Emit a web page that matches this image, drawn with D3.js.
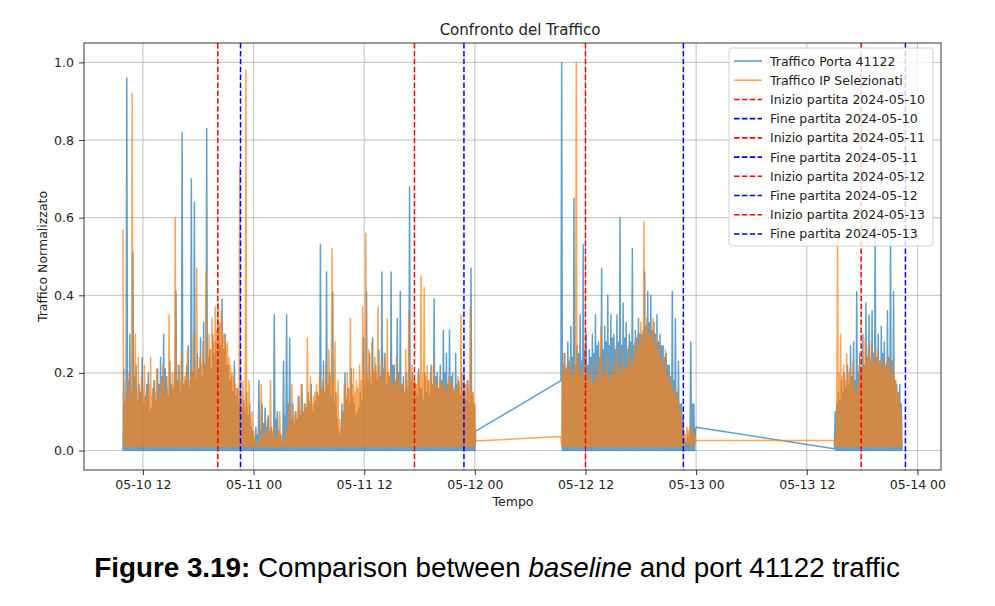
<!DOCTYPE html>
<html><head><meta charset="utf-8">
<script src="https://cdn.jsdelivr.net/npm/d3@7"></script>
<style>body{margin:0;background:#fff}svg{display:block}</style>
</head><body><svg id="c" width="995" height="606"></svg>
<script>
// ---------------- DATA ----------------
const sampleMinutes = 5;
const segmentStarts = ["2024-05-10T09:50", "2024-05-12T09:20", "2024-05-13T15:00"];

// Traffico Porta 41122 (normalized), one value per 5 minutes
const portaSegA = [
0,0.21,0,0.12, 0,0.96,0,0.18, 0,0.30,0,0.15, 0,0.51,0,0.19, 0,0.22,0,0.13,
0,0.17,0,0.15, 0,0.24,0,0.12, 0,0.14,0,0.17, 0,0.20,0,0.10, 0,0.11,0,0.16,
0,0.18,0,0.13, 0,0.21,0,0.17, 0,0.24,0,0.19, 0,0.30,0,0.21, 0,0.19,0,0.14,
0,0.23,0,0.17, 0,0.16,0,0.20, 0,0.41,0,0.18, 0,0.22,0,0.15, 0,0.82,0,0.17,
0,0.18,0,0.22, 0,0.27,0,0.16, 0,0.70,0,0.20, 0,0.64,0,0.18, 0,0.25,0,0.21,
0,0.29,0,0.19, 0,0.33,0,0.22, 0,0.83,0,0.24, 0,0.26,0,0.21, 0,0.30,0,0.25,
0,0.28,0,0.23, 0,0.32,0,0.27, 0,0.39,0,0.26, 0,0.30,0,0.22, 0,0.22,0,0.18,
0,0.19,0,0.15, 0,0.23,0,0.14, 0,0.16,0,0.12, 0,0.20,0,0.11, 0,0.13,0,0.10,
0,0.15,0,0.09, 0,0.12,0,0.06, 0,0.05,0,0.03, 0,0.06,0,0.04, 0,0.18,0,0.05,
0,0.12,0,0.07, 0,0.11,0,0.06, 0,0.09,0,0.05, 0,0.06,0,0.04, 0,0.35,0,0.08,
0,0.10,0,0.05, 0,0.04,0,0.02, 0,0.23,0,0.09, 0,0.35,0,0.12, 0,0.29,0,0.08,
0,0.12,0,0.07, 0,0.10,0,0.08, 0,0.14,0,0.09, 0,0.17,0,0.10, 0,0.12,0,0.11,
0,0.15,0,0.12, 0,0.17,0,0.10, 0,0.12,0,0.13, 0,0.15,0,0.14, 0,0.53,0,0.16,
0,0.23,0,0.15, 0,0.46,0,0.17, 0,0.20,0,0.14, 0,0.41,0,0.12, 0,0.15,0,0.08,
0,0.05,0,0.04, 0,0.12,0,0.10, 0,0.20,0,0.13, 0,0.16,0,0.12, 0,0.21,0,0.14,
0,0.12,0,0.09, 0,0.10,0,0.11, 0,0.15,0,0.13, 0,0.29,0,0.16, 0,0.41,0,0.18,
0,0.25,0,0.17, 0,0.29,0,0.20, 0,0.22,0,0.18, 0,0.26,0,0.19, 0,0.46,0,0.21,
0,0.25,0,0.17, 0,0.20,0,0.19, 0,0.46,0,0.22, 0,0.22,0,0.18, 0,0.34,0,0.20,
0,0.41,0,0.17, 0,0.19,0,0.15, 0,0.20,0,0.16, 0,0.68,0,0.18, 0,0.20,0,0.15,
0,0.17,0,0.14, 0,0.21,0,0.16, 0,0.16,0,0.13, 0,0.20,0,0.15, 0,0.18,0,0.14,
0,0.22,0,0.17, 0,0.39,0,0.19, 0,0.20,0,0.16, 0,0.22,0,0.18, 0,0.31,0,0.20,
0,0.25,0,0.17, 0,0.31,0,0.19, 0,0.20,0,0.15, 0,0.25,0,0.17, 0,0.18,0,0.14,
0,0.20,0,0.15, 0,0.15,0,0.13, 0,0.18,0,0.12, 0,0.47,0,0.14, 0,0.12,0,0.05];
const portaSegB = [0.18,
1.00,0,0.22,0, 0.25,0,0.21,0, 0.28,0,0.23,0, 0.32,0,0.24,0, 0.65,0,0.22,0,
0.27,0,0.25,0, 0.35,0,0.23,0, 0.53,0,0.26,0, 0.30,0,0.22,0, 0.26,0,0.24,0,
0.30,0,0.25,0, 0.35,0,0.27,0, 0.28,0,0.24,0, 0.47,0,0.26,0, 0.32,0,0.28,0,
0.40,0,0.27,0, 0.35,0,0.29,0, 0.30,0,0.26,0, 0.35,0,0.28,0, 0.60,0,0.27,0,
0.38,0,0.29,0, 0.33,0,0.26,0, 0.30,0,0.28,0, 0.52,0,0.27,0, 0.31,0,0.29,0,
0.34,0,0.30,0, 0.30,0,0.31,0, 0.46,0,0.32,0, 0.41,0,0.33,0, 0.40,0,0.31,0,
0.33,0,0.30,0, 0.35,0,0.28,0, 0.30,0,0.27,0, 0.27,0,0.24,0, 0.25,0,0.22,0,
0.22,0,0.19,0, 0.41,0,0.18,0, 0.34,0,0.15,0, 0.23,0,0.12,0, 0.12,0,0.08,0,
0.03,0,0.02,0, 0.04,0,0.03,0, 0.28,0,0.12,0, 0.12,0,0.05,0.06];
const portaSegC = [0.005,
0.10,0,0.12,0, 0.15,0,0.13,0, 0.18,0,0.15,0, 0.20,0,0.16,0, 0.22,0,0.17,0,
0.27,0,0.19,0, 0.28,0,0.18,0, 0.41,0,0.20,0, 0.25,0,0.21,0, 0.30,0,0.22,0,
0.38,0,0.24,0, 0.35,0,0.23,0, 0.36,0,0.25,0, 0.58,0,0.24,0, 0.30,0,0.23,0,
0.32,0,0.25,0, 0.28,0,0.22,0, 0.36,0,0.24,0, 0.57,0,0.23,0, 0.41,0,0.18,0,
0.17,0,0.15,0, 0.17,0,0.12,0];

// Traffico IP Selezionati (normalized), one value per 5 minutes
const ipSegA = [
0.57,0.01,0.12,0.01, 0.18,0.01,0.14,0.01, 0.20,0.01,0.13,0.01, 0.92,0.01,0.16,0.01, 0.30,0.01,0.15,0.01,
0.24,0.01,0.12,0.01, 0.19,0.01,0.16,0.01, 0.22,0.01,0.13,0.01, 0.15,0.01,0.17,0.01, 0.24,0.01,0.14,0.01,
0.18,0.01,0.15,0.01, 0.21,0.01,0.13,0.01, 0.16,0.01,0.18,0.01, 0.22,0.01,0.14,0.01, 0.19,0.01,0.16,0.01,
0.35,0.01,0.15,0.01, 0.20,0.01,0.17,0.01, 0.60,0.01,0.16,0.01, 0.22,0.01,0.18,0.01, 0.25,0.01,0.17,0.01,
0.19,0.01,0.20,0.01, 0.26,0.01,0.18,0.01, 0.21,0.01,0.19,0.01, 0.30,0.01,0.21,0.01, 0.47,0.01,0.20,0.01,
0.24,0.01,0.22,0.01, 0.28,0.01,0.21,0.01, 0.46,0.01,0.24,0.01, 0.30,0.01,0.26,0.01, 0.34,0.01,0.28,0.01,
0.37,0.01,0.31,0.01, 0.38,0.01,0.33,0.01, 0.36,0.01,0.30,0.01, 0.30,0.01,0.27,0.01, 0.28,0.01,0.24,0.01,
0.22,0.01,0.20,0.01, 0.19,0.01,0.17,0.01, 0.16,0.01,0.15,0.01, 0.73,0.01,0.14,0.01, 0.18,0.01,0.12,0.01,
0.98,0.01,0.11,0.01, 0.18,0.01,0.08,0.01, 0.10,0.01,0.05,0.01, 0.03,0.01,0.02,0.01, 0.02,0.01,0.03,0.01,
0.17,0.01,0.04,0.01, 0.05,0.01,0.03,0.01, 0.08,0.01,0.04,0.01, 0.18,0.01,0.05,0.01, 0.06,0.01,0.03,0.01,
0.04,0.01,0.05,0.01, 0.10,0.01,0.04,0.01, 0.03,0.01,0.02,0.01, 0.06,0.01,0.05,0.01, 0.12,0.01,0.07,0.01,
0.17,0.01,0.09,0.01, 0.10,0.01,0.08,0.01, 0.14,0.01,0.10,0.01, 0.17,0.01,0.09,0.01, 0.12,0.01,0.11,0.01,
0.29,0.01,0.13,0.01, 0.19,0.01,0.12,0.01, 0.14,0.01,0.15,0.01, 0.17,0.01,0.14,0.01, 0.20,0.01,0.16,0.01,
0.18,0.01,0.15,0.01, 0.22,0.01,0.17,0.01, 0.26,0.01,0.19,0.01, 0.52,0.01,0.18,0.01, 0.28,0.01,0.14,0.01,
0.18,0.01,0.08,0.01, 0.06,0.01,0.10,0.01, 0.17,0.01,0.14,0.01, 0.20,0.01,0.16,0.01, 0.34,0.01,0.17,0.01,
0.21,0.01,0.15,0.01, 0.18,0.01,0.16,0.01, 0.22,0.01,0.18,0.01, 0.37,0.01,0.19,0.01, 0.56,0.01,0.20,0.01,
0.26,0.01,0.19,0.01, 0.28,0.01,0.21,0.01, 0.24,0.01,0.20,0.01, 0.37,0.01,0.19,0.01, 0.22,0.01,0.18,0.01,
0.25,0.01,0.20,0.01, 0.34,0.01,0.19,0.01, 0.21,0.01,0.17,0.01, 0.18,0.01,0.16,0.01, 0.24,0.01,0.18,0.01,
0.20,0.01,0.17,0.01, 0.17,0.01,0.15,0.01, 0.26,0.01,0.18,0.01, 0.36,0.01,0.19,0.01, 0.22,0.01,0.18,0.01,
0.18,0.01,0.17,0.01, 0.20,0.01,0.19,0.01, 0.45,0.01,0.20,0.01, 0.42,0.01,0.19,0.01, 0.22,0.01,0.18,0.01,
0.20,0.01,0.17,0.01, 0.22,0.01,0.18,0.01, 0.17,0.01,0.16,0.01, 0.19,0.01,0.17,0.01, 0.18,0.01,0.16,0.01,
0.17,0.01,0.15,0.01, 0.19,0.01,0.17,0.01, 0.18,0.01,0.16,0.01, 0.16,0.01,0.15,0.01, 0.19,0.01,0.17,0.01,
0.35,0.01,0.16,0.01, 0.20,0.01,0.17,0.01, 0.18,0.01,0.16,0.01, 0.37,0.01,0.15,0.01, 0.15,0.01,0.12,0.025];
const ipSegB = [0.036,0.01,0.22,0.01,
0.25,0.01,0.20,0.01, 0.22,0.01,0.21,0.01, 0.24,0.01,0.19,0.01, 0.20,0.01,0.22,0.01, 1.00,0.01,0.20,0.01,
0.23,0.01,0.19,0.01, 0.21,0.01,0.20,0.01, 0.24,0.01,0.18,0.01, 0.20,0.01,0.19,0.01, 0.22,0.01,0.17,0.01,
0.19,0.01,0.18,0.01, 0.24,0.01,0.20,0.01, 0.32,0.01,0.19,0.01, 0.21,0.01,0.20,0.01, 0.25,0.01,0.18,0.01,
0.20,0.01,0.19,0.01, 0.23,0.01,0.20,0.01, 0.27,0.01,0.21,0.01, 0.22,0.01,0.20,0.01, 0.26,0.01,0.22,0.01,
0.21,0.01,0.21,0.01, 0.27,0.01,0.23,0.01, 0.24,0.01,0.22,0.01, 0.28,0.01,0.25,0.01, 0.30,0.01,0.27,0.01,
0.33,0.01,0.29,0.01, 0.59,0.01,0.31,0.01, 0.34,0.01,0.30,0.01, 0.32,0.01,0.29,0.01, 0.34,0.01,0.27,0.01,
0.30,0.01,0.25,0.01, 0.28,0.01,0.23,0.01, 0.24,0.01,0.21,0.01, 0.26,0.01,0.19,0.01, 0.20,0.01,0.17,0.01,
0.18,0.01,0.15,0.01, 0.16,0.01,0.13,0.01, 0.15,0.01,0.11,0.01, 0.10,0.01,0.07,0.01, 0.05,0.01,0.04,0.02,
0.06,0.02,0.05,0.01, 0.06,0.02,0.06,0.01, 0.05,0.02,0.04,0.02, 0.026];
const ipSegC = [0.026,0.01,0.04,0.01,
0.57,0.01,0.20,0.01, 0.30,0.01,0.19,0.01, 0.22,0.01,0.18,0.01, 0.25,0.01,0.20,0.01, 0.21,0.01,0.18,0.01,
0.23,0.01,0.16,0.01, 0.15,0.01,0.17,0.01, 0.22,0.01,0.20,0.01, 0.25,0.01,0.21,0.01, 0.29,0.01,0.23,0.01,
0.27,0.01,0.24,0.01, 0.28,0.01,0.23,0.01, 0.25,0.01,0.22,0.01, 0.26,0.01,0.23,0.01, 0.23,0.01,0.21,0.01,
0.24,0.01,0.22,0.01, 0.23,0.01,0.21,0.01, 0.24,0.01,0.20,0.01, 0.22,0.01,0.19,0.01, 0.18,0.01,0.15,0.01,
0.14,0.01,0.11,0.01, 0.02];

const matchDays  = ["2024-05-10", "2024-05-11", "2024-05-12", "2024-05-13"];
const matchStart = ["2024-05-10T20:07", "2024-05-11T17:27", "2024-05-12T12:00", "2024-05-13T17:54"];
const matchEnd   = ["2024-05-10T22:35", "2024-05-11T22:49", "2024-05-12T22:37", "2024-05-13T22:42"];

const xTickLabels = ["2024-05-10T12:00","2024-05-11T00:00","2024-05-11T12:00","2024-05-12T00:00",
                     "2024-05-12T12:00","2024-05-13T00:00","2024-05-13T12:00","2024-05-14T00:00"];
const yTickValues = [0.0, 0.2, 0.4, 0.6, 0.8, 1.0];

const seriesLabels = ["Traffico Porta 41122", "Traffico IP Selezionati"];
const chartTitle = "Confronto del Traffico";
const xLabel = "Tempo", yLabel = "Traffico Normalizzato";

// ---------------- CHART ----------------
const parse = d3.utcParse("%Y-%m-%dT%H:%M");
function build(startStr, vals) {
  const t0 = parse(startStr).getTime();
  return vals.map((v, i) => ({ t: new Date(t0 + i * sampleMinutes * 60000), v }));
}
const porta = [].concat(build(segmentStarts[0], portaSegA), build(segmentStarts[1], portaSegB), build(segmentStarts[2], portaSegC));
const ip = [].concat(build(segmentStarts[0], ipSegA), build(segmentStarts[1], ipSegB), build(segmentStarts[2], ipSegC));

const P = { left: 84, right: 941, top: 43, bottom: 470 };
const [tMin, tMax] = d3.extent(porta.concat(ip), d => d.t);
const pad = (tMax - tMin) * 0.05;
const x = d3.scaleUtc().domain([new Date(+tMin - pad), new Date(+tMax + pad)]).range([P.left, P.right]);
const y = d3.scaleLinear().domain([-0.05, 1.05]).range([P.bottom, P.top]);

const svg = d3.select("#c");
svg.append("rect").attr("width", 995).attr("height", 606).attr("fill", "#fff");
const FONT = "DejaVu Sans, sans-serif";
const FS = 12.5;

svg.append("defs").append("clipPath").attr("id", "clip")
  .append("rect").attr("x", P.left).attr("y", P.top).attr("width", P.right - P.left).attr("height", P.bottom - P.top);

const xTicks = xTickLabels.map(parse);
// grid
const grid = svg.append("g").attr("stroke", "#b0b0b0").attr("stroke-width", 0.8);
grid.selectAll("line.gx").data(xTicks).join("line")
  .attr("x1", d => x(d)).attr("x2", d => x(d)).attr("y1", P.top).attr("y2", P.bottom);
grid.selectAll("line.gy").data(yTickValues).join("line")
  .attr("x1", P.left).attr("x2", P.right).attr("y1", d => y(d)).attr("y2", d => y(d));

const line = d3.line().x(d => x(d.t)).y(d => y(d.v));
const dataG = svg.append("g").attr("clip-path", "url(#clip)");
dataG.append("path").datum(porta).attr("d", line).attr("fill", "none")
  .attr("stroke", "#1f77b4").attr("stroke-opacity", 0.7).attr("stroke-width", 1.5).attr("stroke-linejoin", "round");
dataG.append("path").datum(ip).attr("d", line).attr("fill", "none")
  .attr("stroke", "#ff7f0e").attr("stroke-opacity", 0.7).attr("stroke-width", 1.5).attr("stroke-linejoin", "round");

const vlines = [];
matchDays.forEach((d, i) => {
  vlines.push({ t: parse(matchStart[i]), color: "#ff0000", label: "Inizio partita " + d });
  vlines.push({ t: parse(matchEnd[i]), color: "#0000ff", label: "Fine partita " + d });
});
dataG.selectAll("line.v").data(vlines).join("line")
  .attr("x1", d => x(d.t)).attr("x2", d => x(d.t)).attr("y1", P.top).attr("y2", P.bottom)
  .attr("stroke", d => d.color).attr("stroke-width", 1.5).attr("stroke-dasharray", "5.5,2.4");

// axes
const xAxis = svg.append("g").attr("transform", `translate(0,${P.bottom})`)
  .call(d3.axisBottom(x).tickValues(xTicks).tickFormat(d3.utcFormat("%m-%d %H")).tickSize(5).tickPadding(5));
const yAxis = svg.append("g").attr("transform", `translate(${P.left},0)`)
  .call(d3.axisLeft(y).tickValues(yTickValues).tickFormat(d3.format(".1f")).tickSize(5).tickPadding(5));
[xAxis, yAxis].forEach(a => {
  a.select(".domain").remove();
  a.selectAll("text").attr("font-family", FONT).attr("font-size", FS).attr("fill", "#222");
  a.selectAll("line").attr("stroke", "#222").attr("stroke-width", 0.9);
});
svg.append("rect").attr("x", P.left).attr("y", P.top).attr("width", P.right - P.left).attr("height", P.bottom - P.top)
  .attr("fill", "none").attr("stroke", "#222").attr("stroke-width", 0.9);

// labels
svg.append("text").attr("x", 520).attr("y", 35).attr("text-anchor", "middle")
  .attr("font-family", FONT).attr("font-size", 15).attr("fill", "#222").text(chartTitle);
svg.append("text").attr("x", 513).attr("y", 506).attr("text-anchor", "middle")
  .attr("font-family", FONT).attr("font-size", FS).attr("fill", "#222").text(xLabel);
svg.append("text").attr("transform", `translate(47,${(P.top + P.bottom) / 2}) rotate(-90)`).attr("text-anchor", "middle")
  .attr("font-family", FONT).attr("font-size", FS).attr("fill", "#222").text(yLabel);

// legend
const legendItems = [
  { label: seriesLabels[0], color: "#1f77b4", op: 0.7, dash: null },
  { label: seriesLabels[1], color: "#ff7f0e", op: 0.7, dash: null },
  ...vlines.map(v => ({ label: v.label, color: v.color, op: 1, dash: "5.5,2.4" }))
];
const L = svg.append("g");
L.append("rect").attr("x", 729).attr("y", 48).attr("width", 204).attr("height", 198).attr("rx", 3)
  .attr("fill", "#fff").attr("fill-opacity", 0.8).attr("stroke", "#cccccc").attr("stroke-width", 0.9);
const rowY = i => 61 + i * 19.22;
legendItems.forEach((it, i) => {
  L.append("line").attr("x1", 734).attr("x2", 762).attr("y1", rowY(i)).attr("y2", rowY(i))
    .attr("stroke", it.color).attr("stroke-opacity", it.op).attr("stroke-width", 1.6)
    .attr("stroke-dasharray", it.dash);
  L.append("text").attr("x", 770).attr("y", rowY(i) + 4.5).attr("font-family", FONT).attr("font-size", FS)
    .attr("fill", "#222").text(it.label);
});

// caption
const cap = svg.append("text").attr("x", 497).attr("y", 577).attr("text-anchor", "middle")
  .attr("font-family", "Liberation Sans, Arial, sans-serif").attr("font-size", 27.8).attr("fill", "#000");
cap.append("tspan").attr("font-weight", "bold").text("Figure 3.19:");
cap.append("tspan").text(" Comparison between ");
cap.append("tspan").attr("font-style", "italic").text("baseline");
cap.append("tspan").text(" and port 41122 traffic");
</script></body></html>
